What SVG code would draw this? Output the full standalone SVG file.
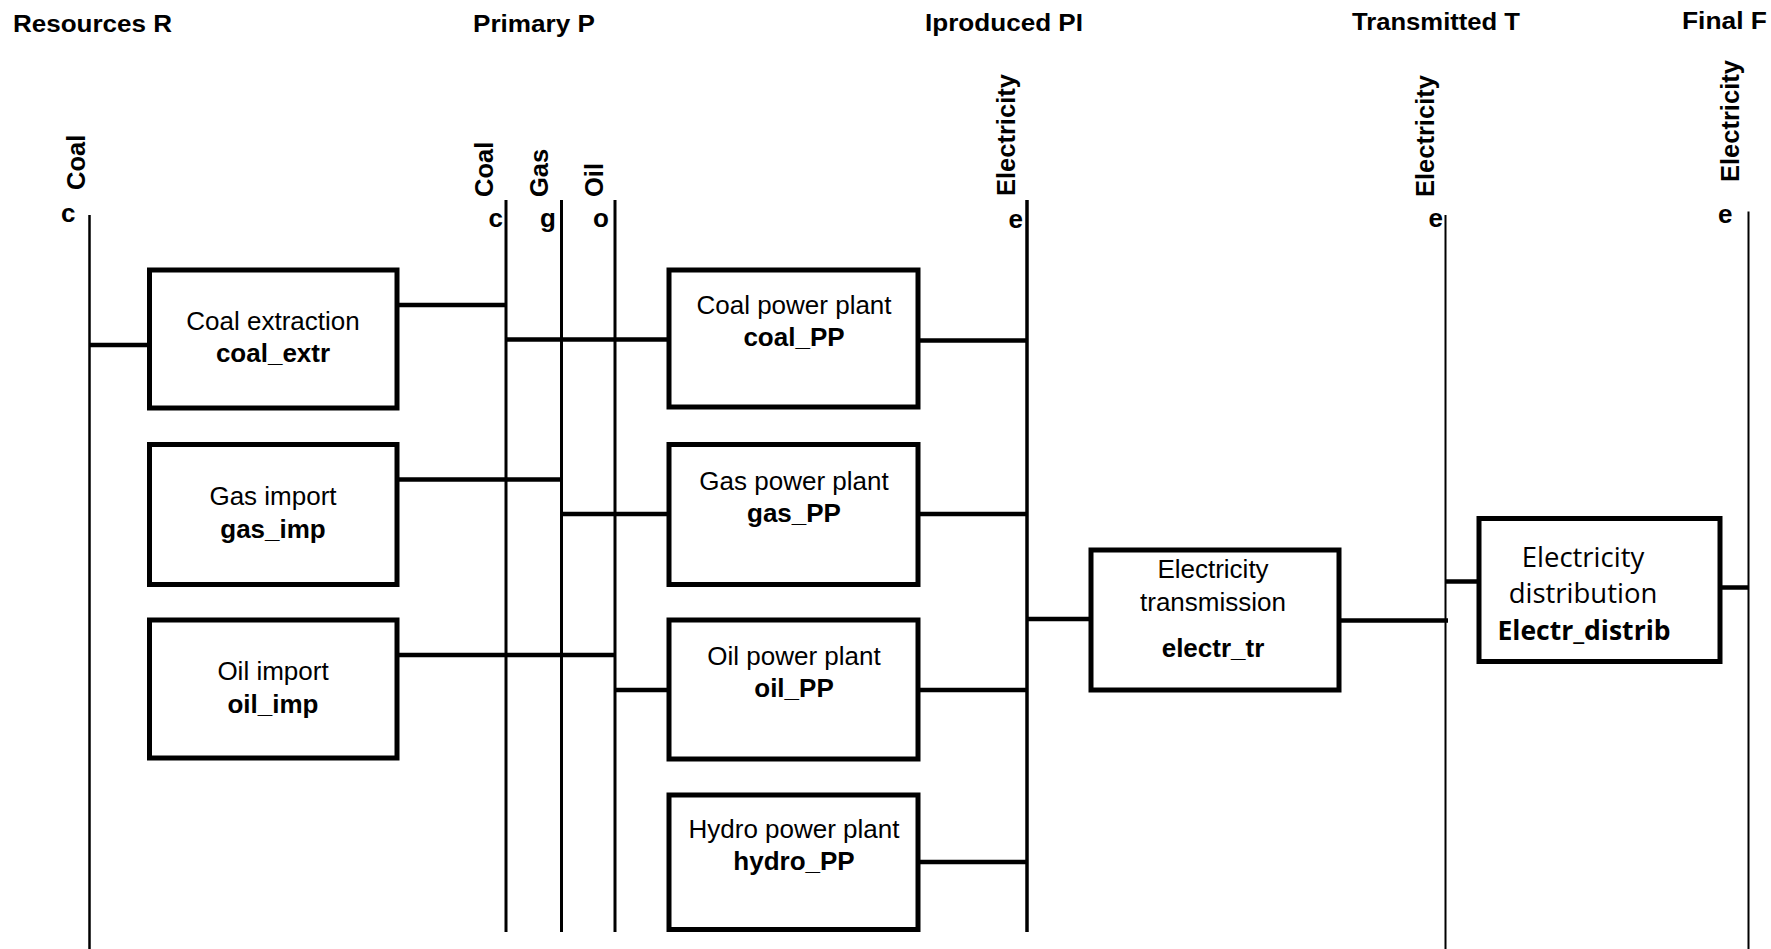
<svg xmlns="http://www.w3.org/2000/svg" width="1771" height="949" viewBox="0 0 1771 949">
<style>
  text { font-family: "Liberation Sans", Arial, sans-serif; fill: #000; }
  .title { font-size: 23.5px; font-weight: bold; }
  .lab { font-size: 25.5px; font-weight: bold; }
  .small { font-size: 26px; font-weight: bold; }
  .t1 { font-size: 26px; text-anchor: middle; }
  .t2 { font-size: 26px; font-weight: bold; text-anchor: middle; }
  .d1 { font-family: "Open Sans", "Noto Sans", sans-serif; font-size: 27.5px; text-anchor: middle; }
  .d2 { font-family: "Open Sans", "Noto Sans", sans-serif; font-size: 26.5px; font-weight: bold; text-anchor: middle; }
  .box { fill: #fff; stroke: #000; stroke-width: 5; }
  .bus { stroke: #000; fill: none; }
  .link { stroke: #000; fill: none; stroke-width: 4.5; }
</style>

<g id="titles">
  <text class="title" x="13" y="31.5" textLength="159" lengthAdjust="spacingAndGlyphs">Resources R</text>
  <text class="title" x="473" y="31.5" textLength="122" lengthAdjust="spacingAndGlyphs">Primary P</text>
  <text class="title" x="925" y="31" textLength="158" lengthAdjust="spacingAndGlyphs">Iproduced PI</text>
  <text class="title" x="1352" y="29.5" textLength="168" lengthAdjust="spacingAndGlyphs">Transmitted T</text>
  <text class="title" x="1682" y="28.5" textLength="85" lengthAdjust="spacingAndGlyphs">Final F</text>
</g>

<g id="commodity-labels">
  <text class="lab" transform="translate(85,190) rotate(-90)">Coal</text>
  <text class="lab" transform="translate(493,197) rotate(-90)">Coal</text>
  <text class="lab" transform="translate(548,197) rotate(-90)">Gas</text>
  <text class="lab" transform="translate(603,197) rotate(-90)">Oil</text>
  <text class="lab" transform="translate(1015,196) rotate(-90)">Electricity</text>
  <text class="lab" transform="translate(1434,197) rotate(-90)">Electricity</text>
  <text class="lab" transform="translate(1739,182) rotate(-90)">Electricity</text>
  <text class="small" x="61" y="222">c</text>
  <text class="small" x="503" y="226.5" text-anchor="end">c</text>
  <text class="small" x="556" y="226.5" text-anchor="end">g</text>
  <text class="small" x="609" y="226.5" text-anchor="end">o</text>
  <text class="small" x="1023" y="228" text-anchor="end">e</text>
  <text class="small" x="1443" y="227" text-anchor="end">e</text>
  <text class="small" x="1718" y="223">e</text>
</g>

<g id="connectors">
  <line class="bus" x1="89.5" y1="215" x2="89.5" y2="949" stroke-width="2.5"/>
  <line class="bus" x1="506" y1="200" x2="506" y2="932" stroke-width="3"/>
  <line class="bus" x1="561.5" y1="200" x2="561.5" y2="932" stroke-width="3"/>
  <line class="bus" x1="615" y1="200" x2="615" y2="932" stroke-width="3"/>
  <line class="bus" x1="1027" y1="200" x2="1027" y2="932" stroke-width="3.5"/>
  <line class="bus" x1="1445.5" y1="215" x2="1445.5" y2="949" stroke-width="2"/>
  <line class="bus" x1="1748.5" y1="211.5" x2="1748.5" y2="949" stroke-width="2"/>

  <line class="link" x1="89.5" y1="345" x2="149.5" y2="345"/>
  <line class="link" x1="397" y1="305" x2="506" y2="305" stroke-width="4"/>
  <line class="link" x1="506" y1="339.5" x2="669" y2="339.5"/>
  <line class="link" x1="397" y1="479.5" x2="562" y2="479.5" stroke-width="4"/>
  <line class="link" x1="561.5" y1="514" x2="671" y2="514"/>
  <line class="link" x1="397" y1="655" x2="615" y2="655" stroke-width="4"/>
  <line class="link" x1="615" y1="690" x2="669" y2="690"/>

  <line class="link" x1="918" y1="340.5" x2="1027" y2="340.5"/>
  <line class="link" x1="918" y1="514" x2="1027" y2="514"/>
  <line class="link" x1="918" y1="690" x2="1027" y2="690"/>
  <line class="link" x1="918" y1="862" x2="1027" y2="862"/>

  <line class="link" x1="1027" y1="619" x2="1091" y2="619"/>
  <line class="link" x1="1339" y1="620.5" x2="1448" y2="620.5" stroke-width="5"/>
  <line class="link" x1="1445.5" y1="581.5" x2="1479" y2="581.5" stroke-width="3"/>
  <line class="link" x1="1720" y1="587.5" x2="1749" y2="587.5" stroke-width="3"/>
</g>

<g id="coal_extr">
  <rect class="box" x="149.5" y="270" width="247.5" height="138"/>
  <text class="t1" x="273" y="330">Coal extraction</text>
  <text class="t2" x="273" y="362">coal_extr</text>
</g>
<g id="gas_imp">
  <rect class="box" x="149.5" y="444.5" width="247.5" height="140"/>
  <text class="t1" x="273" y="504.5">Gas import</text>
  <text class="t2" x="273" y="537.5">gas_imp</text>
</g>
<g id="oil_imp">
  <rect class="box" x="149.5" y="620" width="247.5" height="138"/>
  <text class="t1" x="273" y="679.5">Oil import</text>
  <text class="t2" x="273" y="712.5">oil_imp</text>
</g>

<g id="coal_PP">
  <rect class="box" x="669" y="270" width="249" height="137"/>
  <text class="t1" x="794" y="314">Coal power plant</text>
  <text class="t2" x="794" y="346">coal_PP</text>
</g>
<g id="gas_PP">
  <rect class="box" x="669" y="444.5" width="249" height="140"/>
  <text class="t1" x="794" y="489.5">Gas power plant</text>
  <text class="t2" x="794" y="522">gas_PP</text>
</g>
<g id="oil_PP">
  <rect class="box" x="669" y="620" width="249" height="139"/>
  <text class="t1" x="794" y="664.5">Oil power plant</text>
  <text class="t2" x="794" y="697">oil_PP</text>
</g>
<g id="hydro_PP">
  <rect class="box" x="669" y="795" width="249" height="134.5"/>
  <text class="t1" x="794" y="837.5">Hydro power plant</text>
  <text class="t2" x="794" y="869.5">hydro_PP</text>
</g>

<g id="electr_tr">
  <rect class="box" x="1091" y="550" width="248" height="140"/>
  <text class="t1" x="1213" y="578">Electricity</text>
  <text class="t1" x="1213" y="611">transmission</text>
  <text class="t2" x="1213" y="657">electr_tr</text>
</g>

<g id="Electr_distrib">
  <rect class="box" x="1479" y="518.5" width="241" height="143" stroke-width="4"/>
  <text class="d1" x="1583" y="567">Electricity</text>
  <text class="d1" x="1583" y="603">distribution</text>
  <text class="d2" x="1584" y="640">Electr_distrib</text>
</g>
</svg>
